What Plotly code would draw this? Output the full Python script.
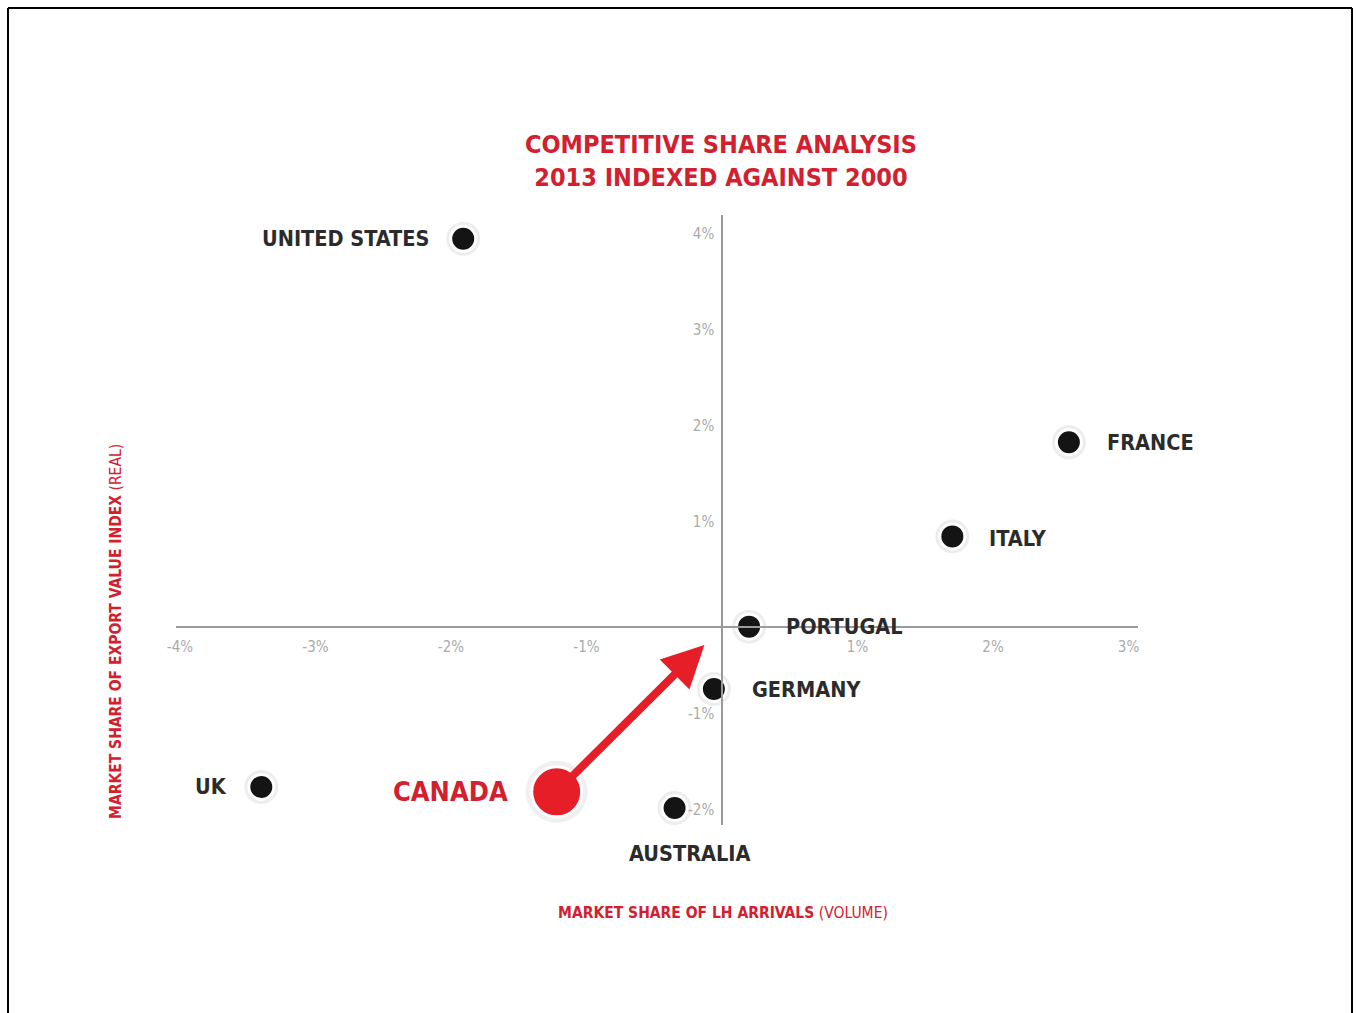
import plotly.graph_objects as go

# ---- data ----
countries = ["UNITED STATES", "FRANCE", "ITALY", "PORTUGAL", "GERMANY", "UK", "AUSTRALIA"]
arrivals_share = [-1.91, 2.56, 1.70, 0.20, -0.06, -3.40, -0.35]      # x, %
export_value_share = [3.95, 1.83, 0.85, -0.09, -0.74, -1.76, -1.98]  # y, %
canada_name = "CANADA"
canada_x = -1.22
canada_y = -1.81
arrow_tip_x = -0.13
arrow_tip_y = -0.28
x_ticks = [-4, -3, -2, -1, 1, 2, 3]
y_ticks = [-2, -1, 1, 2, 3, 4]
x_tick_labels = [f"{v}%" for v in x_ticks]
y_tick_labels = [f"{v}%" for v in y_ticks]

# ---- styles ----
RED = "#d2202f"
TXT = "#2b2b2b"
FONT = "DejaVu Sans Condensed, Liberation Sans Narrow, sans-serif"
label_offsets = {  # (xshift, yshift, xanchor)
    "UNITED STATES": (-32, 0, "right"),
    "FRANCE": (36, 0, "left"),
    "ITALY": (35, -2, "left"),
    "PORTUGAL": (35, 0, "left"),
    "GERMANY": (36, 0, "left"),
    "UK": (-32, 0, "right"),
    "AUSTRALIA": (15, -45, "center"),
}

W, H = 1357, 1013
L, R, T, B = 176, 1138, 215, 825


def px_x(p):  # container pixel -> plot-area paper fraction
    return (p - L) / (R - L)


def px_y(p):
    return (B - p) / (B - T)


fig = go.Figure()

# soft shadow halos
fig.add_trace(go.Scatter(x=arrivals_share, y=export_value_share, mode="markers",
                         marker=dict(size=34, color="rgba(0,0,0,0.07)", line=dict(width=0)),
                         hoverinfo="skip", showlegend=False))
fig.add_trace(go.Scatter(x=[canada_x], y=[canada_y], mode="markers",
                         marker=dict(size=62, color="rgba(0,0,0,0.06)", line=dict(width=0)),
                         hoverinfo="skip", showlegend=False))
# black points
fig.add_trace(go.Scatter(x=arrivals_share, y=export_value_share, mode="markers",
                         marker=dict(size=25, color="#141414", line=dict(color="white", width=3)),
                         text=countries, showlegend=False))

# Canada arrow
fig.add_annotation(x=arrow_tip_x, y=arrow_tip_y, ax=canada_x, ay=canada_y,
                   xref="x", yref="y", axref="x", ayref="y", text="",
                   showarrow=True, arrowhead=2, arrowsize=1.05, arrowwidth=8,
                   arrowcolor="#e61e28", standoff=0, startstandoff=0)
fig.add_trace(go.Scatter(x=[canada_x], y=[canada_y], mode="markers",
                         marker=dict(size=50, color="#e61e28", line=dict(color="white", width=3)),
                         text=[canada_name], showlegend=False))

# country labels
for name, xv, yv in zip(countries, arrivals_share, export_value_share):
    xs, ys, xa = label_offsets[name]
    fig.add_annotation(x=xv, y=yv, xref="x", yref="y", text=f"<b>{name}</b>",
                       showarrow=False, xshift=xs, yshift=ys, xanchor=xa, yanchor="middle",
                       font=dict(family=FONT, size=21.5, color=TXT))
fig.add_annotation(x=canada_x, y=canada_y, xref="x", yref="y", text=f"<b>{canada_name}</b>",
                   showarrow=False, xshift=-47, xanchor="right", yanchor="middle",
                   font=dict(family=FONT, size=27, color=RED))

# title
fig.add_annotation(x=px_x(721), y=px_y(161), xref="paper", yref="paper",
                   xanchor="center", yanchor="middle", showarrow=False,
                   text="<b>COMPETITIVE SHARE ANALYSIS<br>2013 INDEXED AGAINST 2000</b>",
                   font=dict(family=FONT, size=25, color=RED))

# axis titles
fig.add_annotation(x=px_x(723), y=px_y(913), xref="paper", yref="paper",
                   xanchor="center", yanchor="middle", showarrow=False,
                   text="<b>MARKET SHARE OF LH ARRIVALS</b> (VOLUME)",
                   font=dict(family=FONT, size=15.5, color=RED))
fig.add_annotation(x=px_x(116), y=px_y(632), xref="paper", yref="paper",
                   xanchor="center", yanchor="middle", showarrow=False, textangle=-90,
                   text="<b>MARKET SHARE OF EXPORT VALUE INDEX</b> (REAL)",
                   font=dict(family=FONT, size=15.5, color=RED))

# border (top, left, right)
for x0, y0, x1, y1 in [(8, 8, 1352, 8), (8, 8, 8, H + 5), (1352, 8, 1352, H + 5)]:
    fig.add_shape(type="line", xref="paper", yref="paper",
                  x0=px_x(x0), y0=px_y(y0), x1=px_x(x1), y1=px_y(y1),
                  line=dict(color="black", width=2))

x_zero_px = 722
y_zero_px = 618
x_scale = 135.5
y_scale = 96.0
fig.update_layout(
    width=W, height=H, paper_bgcolor="white", plot_bgcolor="white",
    margin=dict(l=L, r=W - R, t=T, b=H - B, pad=0),
    showlegend=False,
    xaxis=dict(range=[(L - x_zero_px) / x_scale, (R - x_zero_px) / x_scale],
               showgrid=False, zeroline=False, showline=True, linecolor="#9a9a9a", linewidth=1.5,
               anchor="free", position=px_y(627),
               tickvals=x_ticks, ticktext=x_tick_labels, ticks="outside", ticklen=6,
               tickcolor="rgba(0,0,0,0)",
               tickfont=dict(family=FONT, size=15, color="#aaaaaa")),
    yaxis=dict(range=[(y_zero_px - B) / y_scale, (y_zero_px - T) / y_scale],
               showgrid=False, zeroline=False, showline=True, linecolor="#9a9a9a", linewidth=1.5,
               anchor="free", position=px_x(x_zero_px),
               tickvals=y_ticks, ticktext=y_tick_labels, ticks="outside", ticklen=4,
               tickcolor="rgba(0,0,0,0)",
               tickfont=dict(family=FONT, size=15, color="#aaaaaa")),
)

fig.write_html("out.html")
